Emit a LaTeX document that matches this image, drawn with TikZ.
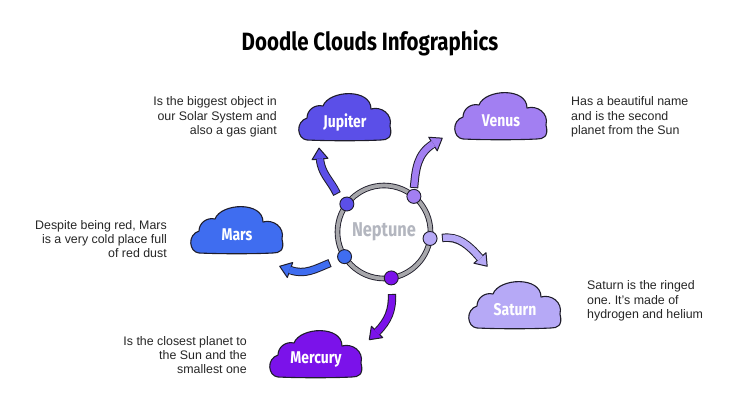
\documentclass[tikz,border=0pt]{standalone}
\usepackage{fontspec}
\setmainfont{Liberation Sans}
\newfontfamily\condfont{Fira Sans}[FakeStretch=0.82]
\usetikzlibrary{decorations.markings}
\frenchspacing
\definecolor{jupc}{HTML}{5B4FE8}
\definecolor{venc}{HTML}{A27FF2}
\definecolor{marc}{HTML}{3F6DF0}
\definecolor{satc}{HTML}{B6A9F6}
\definecolor{merc}{HTML}{7B12EA}
\definecolor{outl}{HTML}{1F1D2B}
\definecolor{ringgray}{HTML}{A7A7AB}
\definecolor{neptext}{HTML}{B3B6BF}
\definecolor{txt}{HTML}{262626}
\newcommand\cloudarrow[5]{%
  \draw[line width=8.4pt, outl] (#2) to[out=#3,in=#4] (#5);
  \draw[line width=6.4pt, #1, shorten <=1pt, postaction={decorate},
    decoration={markings, mark=at position 0.999 with {%
      \filldraw[fill=#1, draw=outl, line width=1pt, line join=round] (0,-8pt) -- (11pt,0) -- (0,8pt) -- cycle;
      \fill[#1] (-2pt,-3.2pt) rectangle (0.6pt,3.2pt);}}]
    (#2) to[out=#3,in=#4] (#5);
}
\newcommand\drawcloud[4]{% name, position, colour, label
  \begin{scope}[shift={(#2)}]
    \filldraw[fill=#3, draw=outl, line width=1.1pt, line join=round]
      (-38,0) .. controls (-48,1) and (-50,18) .. (-38,22)
      .. controls (-38,30) and (-30,36) .. (-22,34)
      .. controls (-16,50) and (26,52) .. (26,31)
      .. controls (36,34) and (48,26) .. (45,14)
      .. controls (48,2) and (42,0) .. (36,0)
      .. controls (16,-1) and (-16,-1) .. (-38,0) -- cycle;
    \node[cloudlabel] (#1) at (0,18) {#4};
  \end{scope}
}
\tikzset{
  cloudlabel/.style={font=\condfont\bfseries\fontsize{17}{20}\selectfont, text=white, inner sep=0pt},
  desc/.style={font=\fontsize{12.4}{14.4}\selectfont, text=txt, inner sep=0pt},
  dot/.style={circle, draw=outl, line width=0.9pt, minimum size=14pt, inner sep=0pt}
}
\begin{document}
\begin{tikzpicture}[x=1pt,y=1pt]
\fill[white] (0,0) rectangle (740,416);
\useasboundingbox (0,0) rectangle (740,416);

\node[font=\condfont\bfseries\fontsize{25}{29}\selectfont, text=black] (title) at (370,373) {Doodle Clouds Infographics};

% ring
\node[circle, minimum size=93pt, inner sep=0pt, outer sep=0pt, draw=outl, double=ringgray,
  double distance=3.8pt, line width=0.9pt, text=neptext,
  font=\condfont\bfseries\fontsize{20}{23}\selectfont] (ring) at (384,184) {Neptune};

\node[dot, fill=jupc] (jd) at (ring.143) {};
\node[dot, fill=venc] (vd) at (ring.50) {};
\node[dot, fill=satc] (sd) at (ring.-8) {};
\node[dot, fill=marc] (md) at (ring.212) {};
\node[dot, fill=merc] (med) at (ring.-81.5) {};

% clouds
\drawcloud{jup}{345,276}{jupc}{Jupiter}
\drawcloud{ven}{501,277}{venc}{Venus}
\drawcloud{mar}{237,163}{marc}{Mars}
\drawcloud{sat}{515,88}{satc}{Saturn}
\drawcloud{mer}{316,39}{merc}{Mercury}

% arrows
\coordinate (ja) at (337,222); \coordinate (jb) at (320,257);
\coordinate (va) at (414,228); \coordinate (vb) at (433,272);
\coordinate (sa) at (442,178); \coordinate (sb) at (480,158);
\coordinate (ma) at (330,153); \coordinate (mb) at (290,146);
\coordinate (mea) at (392,122); \coordinate (meb) at (377,84);
\cloudarrow{jupc}{ja}{115}{-85}{jb}
\cloudarrow{venc}{va}{85}{-148}{vb}
\cloudarrow{satc}{sa}{8}{131}{sb}
\cloudarrow{marc}{ma}{-158}{-20}{mb}
\cloudarrow{merc}{mea}{-88}{45}{meb}

% texts
\node[desc, align=right, anchor=east] (jtx) at (277,299) {Is the biggest object in\\our Solar System and\\also a gas giant};
\node[desc, align=left, anchor=west] (vtx) at (571,299) {Has a beautiful name\\and is the second\\planet from the Sun};
\node[desc, align=right, anchor=east] (mtx) at (167,177) {Despite being red, Mars\\is a very cold place full\\of red dust};
\node[desc, align=left, anchor=west] (stx) at (587,115) {Saturn is the ringed\\one. It’s made of\\hydrogen and helium};
\node[desc, align=right, anchor=east] (metx) at (247,61) {Is the closest planet to\\the Sun and the\\smallest one};
\end{tikzpicture}
\end{document}
